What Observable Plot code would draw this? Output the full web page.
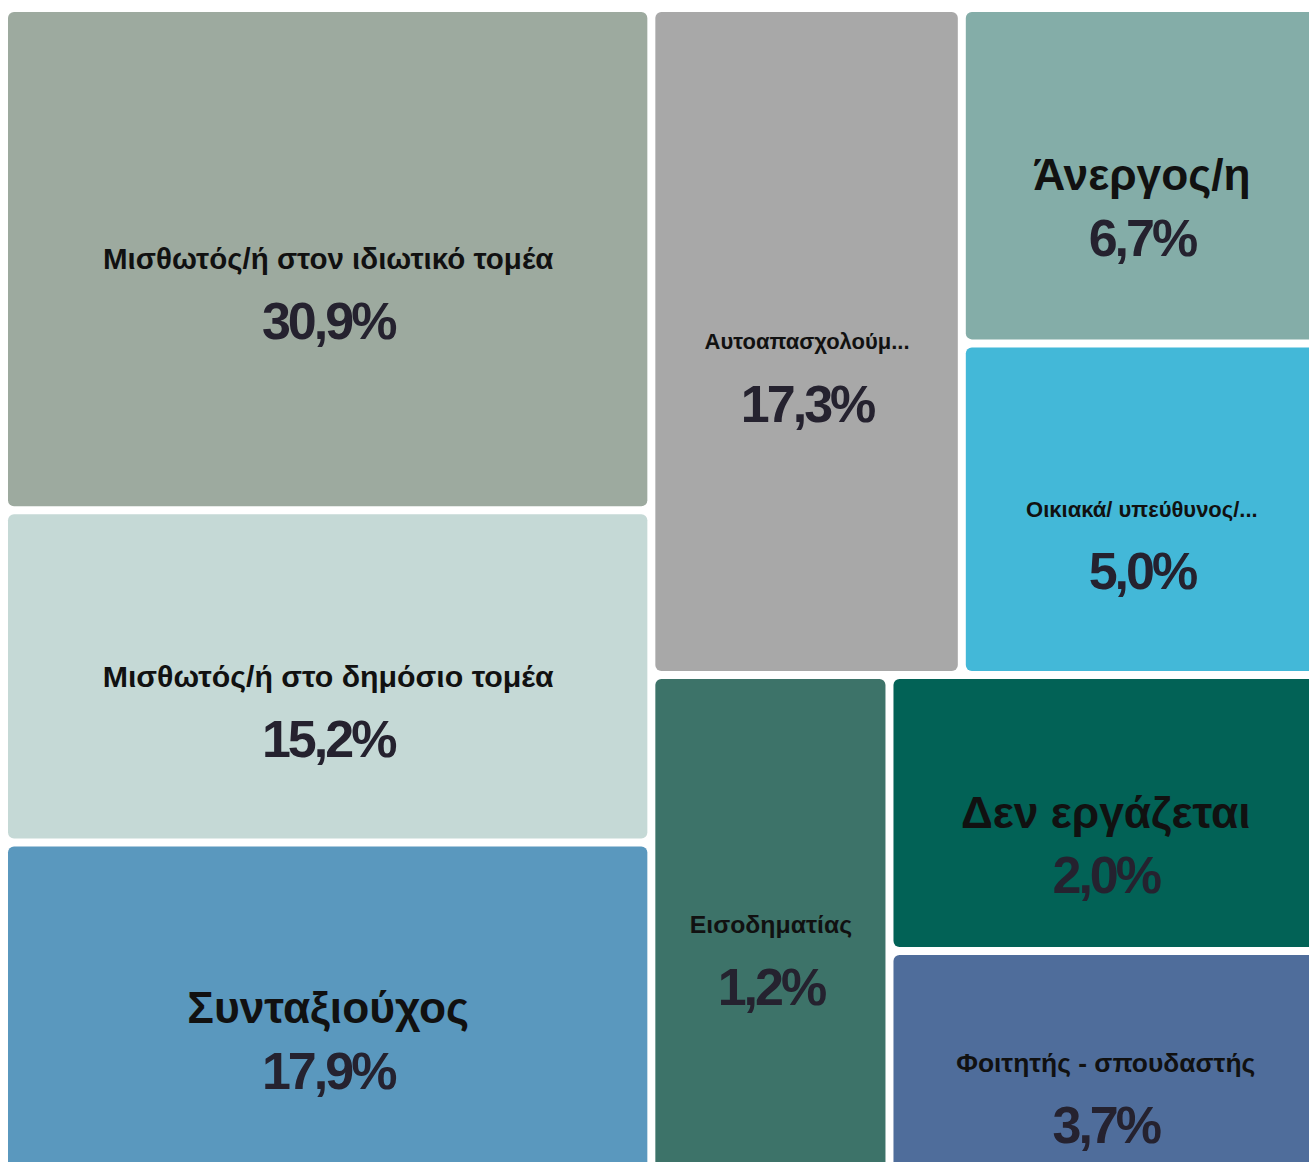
<!DOCTYPE html>
<html>
<head>
<meta charset="utf-8">
<script src="https://cdn.jsdelivr.net/npm/d3@7"></script>
<script src="https://cdn.jsdelivr.net/npm/@observablehq/plot@0.6"></script>
<style>
  html, body { margin: 0; padding: 0; overflow: hidden; background: #ffffff; }
  #chart svg { display: block; max-width: none !important; }
</style>
</head>
<body>
<div id="chart"></div>
<script>
// ---- data ----
const categories = [
  "Μισθωτός/ή στον ιδιωτικό τομέα",
  "Μισθωτός/ή στο δημόσιο τομέα",
  "Συνταξιούχος",
  "Αυτοαπασχολούμενος/η",
  "Άνεργος/η",
  "Οικιακά/ υπεύθυνος/η νοικοκυριού",
  "Εισοδηματίας",
  "Δεν εργάζεται",
  "Φοιτητής - σπουδαστής"
];
const shares = [30.9, 15.2, 17.9, 17.3, 6.7, 5.0, 1.2, 2.0, 3.7];
// tile weights
const tileWeights = [2121, 1404, 1404, 1351, 786, 777, 777, 777, 631];

// ---- styles ----
const palette = ["#9DAA9F", "#C5D9D6", "#5A98BE", "#A8A8A8", "#84ADA8", "#43B8D8", "#3D7369", "#026256", "#4F6D9B"];
const FONT = "'Liberation Sans', Arial, Helvetica, sans-serif";
const W = 1309, H = 1159;
const LABEL_MAX = 44.3, LABEL_MIN = 22, FIT = 0.705;

// ---- layout ----
const root = d3.hierarchy({children: categories.map((c, i) => ({name: c, share: shares[i], weight: tileWeights[i]}))})
  .sum(d => d.weight || 0)
  .sort((a, b) => b.value - a.value);
d3.treemap().tile(d3.treemapBinary).size([W, H]).paddingInner(8).round(false)(root);

const ctx = document.createElement("canvas").getContext("2d");
function textWidth(t, size) {
  ctx.font = `bold ${size}px "Liberation Sans", Arial, sans-serif`;
  const m = ctx.measureText(t).width;
  return (isFinite(m) && m > 0) ? m : t.length * size * 0.58;
}
function fitLabel(name, avail) {
  const per = textWidth(name, 100) / 100;
  let size = Math.min(LABEL_MAX, avail / per);
  if (size >= LABEL_MIN) return {text: name, size};
  size = LABEL_MIN;
  let t = name;
  while (t.length > 1 && textWidth(t + "\u2026", size) > avail) t = t.slice(0, -1);
  return {text: t.trimEnd() + "...", size};
}
const fmt = v => v.toFixed(1).replace(".", ",") + "%";

const cells = root.leaves().map(l => {
  const f = fitLabel(l.data.name, FIT * (l.x1 - l.x0));
  return {
    name: l.data.name, share: l.data.share,
    x0: l.x0, x1: l.x1, y0: l.y0, y1: l.y1,
    cx: (l.x0 + l.x1) / 2, cy: (l.y0 + l.y1) / 2,
    label: f.text, labelSize: Math.round(f.size * 10) / 10, pct: fmt(l.data.share)
  };
});

const chart = Plot.plot({
  width: W + 16, height: H + 16, margin: 0,
  style: {fontFamily: FONT, background: "#ffffff"},
  x: {domain: [0, W], range: [8, 8 + W], axis: null},
  y: {domain: [0, H], range: [12, 12 + H], axis: null},
  color: {domain: categories, range: palette},
  marks: [
    Plot.rect(cells, {x1: "x0", x2: "x1", y1: "y0", y2: "y1", fill: "name", rx: 6}),
    Plot.text(cells, {x: "cx", y: "cy", text: d => d.label, fontWeight: "bold", fill: "#111111", fontFamily: FONT, ariaDescription: "lbl"}),
    Plot.text(cells, {x: "cx", y: "cy", dy: 63, text: "pct", fontSize: 52, fontWeight: "bold", fill: "#25222F", fontFamily: FONT, ariaDescription: "pct"})
  ]
});
document.getElementById("chart").appendChild(chart);
d3.select(chart).selectAll("g[aria-description='pct'] text").attr("letter-spacing", "-3px");
// per-label font size from the fit computed above
d3.select(chart).selectAll("g[aria-description='lbl'] text").each(function(i) {
  const d = cells[i];
  if (d) d3.select(this).attr("font-size", d.labelSize + "px");
});
</script>
</body>
</html>
